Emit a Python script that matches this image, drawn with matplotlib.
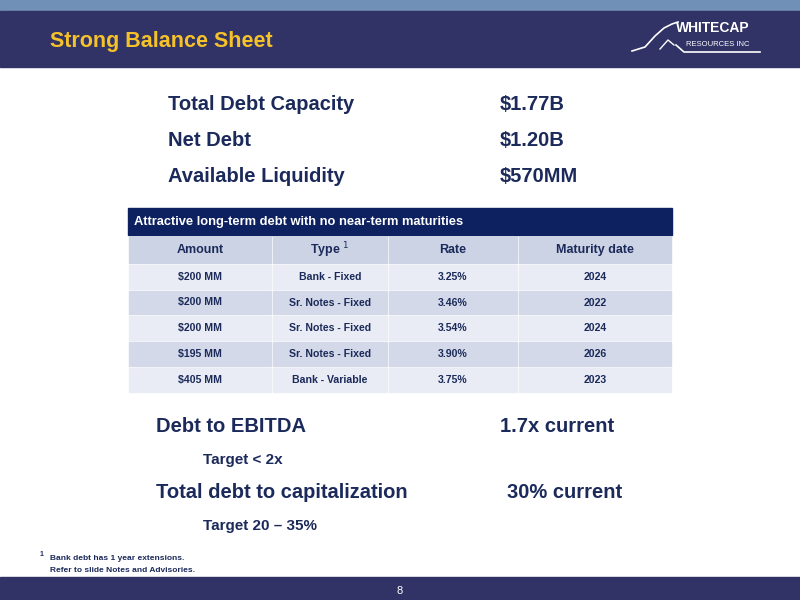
import matplotlib
matplotlib.use("Agg")
import matplotlib.pyplot as plt
from matplotlib.patches import Rectangle

FONT = ['Liberation Sans Narrow', 'Liberation Sans', 'DejaVu Sans']
plt.rcParams['font.family'] = FONT

title = "Strong Balance Sheet"
summary_labels = ["Total Debt Capacity", "Net Debt", "Available Liquidity"]
summary_values = ["$1.77B", "$1.20B", "$570MM"]
table_title = "Attractive long-term debt with no near-term maturities"
col_headers = ["Amount", "Type $^1$", "Rate", "Maturity date"]
amounts = ["$200 MM", "$200 MM", "$200 MM", "$195 MM", "$405 MM"]
types = ["Bank - Fixed", "Sr. Notes - Fixed", "Sr. Notes - Fixed", "Sr. Notes - Fixed", "Bank - Variable"]
rates = ["3.25%", "3.46%", "3.54%", "3.90%", "3.75%"]
maturities = ["2024", "2022", "2024", "2026", "2023"]
metrics = ["Debt to EBITDA", "Total debt to capitalization"]
metric_values = ["1.7x current", "30% current"]
targets = ["Target < 2x", "Target 20 \u2013 35%"]
footnotes = ["Bank debt has 1 year extensions.", "Refer to slide Notes and Advisories."]
page = "8"

NAVY = "#1b2a5a"
fig = plt.figure(figsize=(8, 6), dpi=100)
ax = fig.add_axes([0, 0, 1, 1])
ax.set_xlim(0, 800); ax.set_ylim(600, 0); ax.axis('off')

# header bands
ax.add_patch(Rectangle((0, 0), 800, 11, color="#7090b8"))
ax.add_patch(Rectangle((0, 11), 800, 56, color="#313266"))
ax.text(50, 41, title, color="#f5c22a", fontsize=15.5, fontweight='bold', va='center', ha='left')
# logo approximation
ax.text(676, 28, "WHITECAP", color="white", fontsize=10, fontweight='bold', va='center', ha='left')
ax.text(686, 44, "RESOURCES INC", color="white", fontsize=5.5, va='center', ha='left')
ax.plot([632, 645, 655, 664, 672, 678], [51, 47, 36, 28, 24, 22], color="white", lw=1.2)
ax.plot([660, 668, 674], [49, 40, 45], color="white", lw=1.0)
ax.plot([676, 684, 760], [45, 52, 52], color="white", lw=1.2)

# bottom band
ax.add_patch(Rectangle((0, 577), 800, 23, color="#313266"))
ax.text(400, 591, page, color="white", fontsize=8, ha='center', va='center')

# summary
for i, (l, v) in enumerate(zip(summary_labels, summary_values)):
    y = 105 + i * 36
    ax.text(168, y, l, color=NAVY, fontsize=14.5, fontweight='bold', va='center')
    ax.text(500, y, v, color=NAVY, fontsize=14.5, fontweight='bold', va='center')

# table
x0, x1 = 128, 672
ax.add_patch(Rectangle((x0, 208), x1 - x0, 27, color="#0d2060"))
ax.text(134, 222, table_title, color="white", fontsize=9.3, fontweight='bold', va='center')
cols = [128, 272, 388, 518, 672]
hdr_y = (237, 263)
row_ys = [(265, 289), (291, 314), (316, 340), (342, 366), (368, 392)]
for j in range(4):
    ax.add_patch(Rectangle((cols[j] + 1, hdr_y[0]), cols[j + 1] - cols[j] - 2, hdr_y[1] - hdr_y[0], color="#ccd3e4"))
    ax.text((cols[j] + cols[j + 1]) / 2, sum(hdr_y) / 2, col_headers[j], color=NAVY, fontsize=9,
            fontweight='bold', ha='center', va='center')
rows = list(zip(amounts, types, rates, maturities))
for i, row in enumerate(rows):
    ya, yb = row_ys[i]
    c = "#e9ecf4" if i % 2 == 0 else "#d3d9e8"
    for j in range(4):
        ax.add_patch(Rectangle((cols[j] + 1, ya), cols[j + 1] - cols[j] - 2, yb - ya, color=c))
        ax.text((cols[j] + cols[j + 1]) / 2, (ya + yb) / 2, row[j], color=NAVY, fontsize=7.6,
                fontweight='bold', ha='center', va='center')

# metrics
for i in range(2):
    y = 426 + i * 66
    ax.text(156, y, metrics[i], color=NAVY, fontsize=14.5, fontweight='bold', va='center')
    ax.text(500 + i * 7, y, metric_values[i], color=NAVY, fontsize=14.5, fontweight='bold', va='center')
    ax.text(203, y + 34, targets[i], color=NAVY, fontsize=11, fontweight='bold', va='center')

# footnotes
ax.text(40, 555, "1", color=NAVY, fontsize=5, fontweight='bold', va='center')
ax.text(50, 558, footnotes[0], color=NAVY, fontsize=6, fontweight='bold', va='center')
ax.text(50, 571, footnotes[1], color=NAVY, fontsize=6, fontweight='bold', va='center')

fig.savefig("out.png", dpi=100)
